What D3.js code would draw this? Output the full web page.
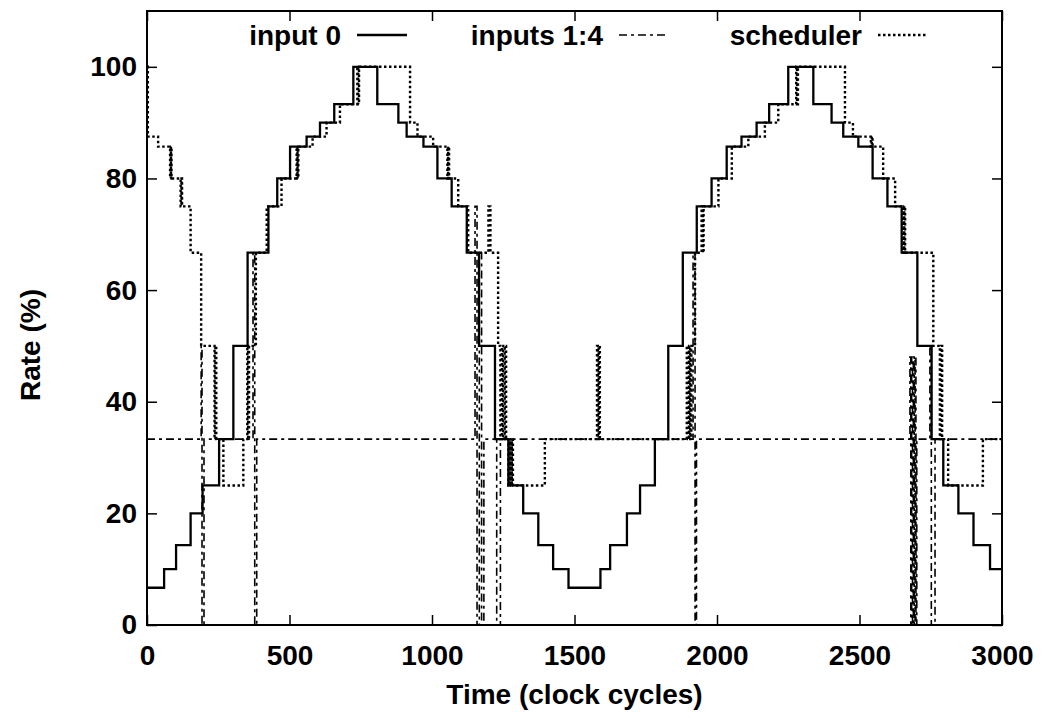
<!DOCTYPE html>
<html>
<head>
<meta charset="utf-8">
<script src="https://cdnjs.cloudflare.com/ajax/libs/d3/7.8.5/d3.min.js"></script>
<style>
  body { margin: 0; background: #fff; }
  svg { display: block; }
  text { font-family: "Liberation Sans", Arial, sans-serif; font-weight: bold; font-size: 28px; fill: #000; }
</style>
</head>
<body>
<script>
// tick values
var xTicks = [0, 500, 1000, 1500, 2000, 2500, 3000];
var yTicks = [0, 20, 40, 60, 80, 100];

// legend labels
var seriesNames = ["input 0", "inputs 1:4", "scheduler"];

// input 0 rate, [time, rate %], step after
var input0 = [
  [0, 6.67], [60, 10], [102, 14.3], [153, 20], [195, 25], [253, 33.3], [303, 50],
  [353, 66.7], [426, 75], [457, 80], [502, 85.7], [560, 87.5], [607, 90], [657, 93.3],
  [724, 100], [808, 93.3], [882, 90], [911, 87.5], [970, 85.7], [1019, 80], [1069, 75],
  [1122, 66.7], [1165, 50], [1221, 33.3], [1268, 25], [1320, 20], [1373, 14.3],
  [1425, 10], [1479, 6.67], [1591, 10], [1625, 14.3], [1684, 20], [1730, 25],
  [1782, 33.3], [1829, 50], [1880, 66.7], [1929, 75], [1981, 80], [2034, 85.7],
  [2086, 87.5], [2139, 90], [2183, 93.3], [2250, 100], [2338, 93.3], [2402, 90],
  [2443, 87.5], [2496, 85.7], [2546, 80], [2598, 75], [2648, 66.7], [2703, 50],
  [2753, 33.3], [2794, 25], [2847, 20], [2900, 14.3], [2958, 10], [3000, 10]
];

// inputs 1:4 rate
var inputs14 = [
  [0, 33.3], [190, 50], [193, 0], [200, 33.3],
  [372, 66.7], [378, 0], [385, 33.3],
  [1151, 75], [1158, 0], [1166, 66.7], [1174, 0], [1182, 33.3],
  [1227, 0], [1240, 33.3],
  [1916, 66.7], [1923, 0], [1928, 33.3],
  [2677, 48], [2680, 0], [2683, 48], [2686, 0], [2689, 48], [2692, 0], [2695, 48], [2698, 0], [2701, 33.3],
  [2747, 50], [2752, 0], [2765, 33.3],
  [3000, 33.3]
];

// scheduler rate
var scheduler = [
  [0, 100], [3, 87.5], [39, 85.7], [81, 80], [84, 85.7], [86, 80], [118, 75], [121, 80], [123, 75],
  [153, 66.7], [190, 50], [237, 33.3], [240, 50], [243, 33.3], [268, 25], [338, 33.3],
  [352, 50], [355, 33.3], [358, 50], [382, 66.7], [420, 75], [472, 80], [525, 85.7],
  [528, 80], [531, 85.7], [581, 87.5], [630, 90], [677, 93.3], [738, 100], [741, 93.3],
  [744, 100], [923, 90], [949, 87.5], [1004, 85.7], [1054, 80], [1057, 85.7], [1060, 80],
  [1092, 75], [1127, 66.7], [1198, 75], [1205, 66.7], [1232, 50], [1240, 33.3], [1245, 50],
  [1250, 33.3], [1255, 50], [1260, 33.3], [1268, 25], [1272, 33.3], [1276, 25], [1280, 33.3],
  [1284, 25], [1396, 33.3], [1579, 50], [1582, 33.3], [1585, 50], [1589, 33.3],
  [1894, 50], [1898, 33.3], [1902, 50], [1906, 33.3], [1910, 50], [1923, 66.7],
  [1946, 75], [1950, 66.7], [1953, 75], [2005, 80], [2052, 85.7], [2110, 87.5], [2168, 90],
  [2215, 93.3], [2278, 100], [2281, 93.3], [2284, 100], [2449, 90], [2477, 87.5],
  [2540, 85.7], [2543, 87.5], [2546, 85.7], [2583, 80], [2625, 75], [2654, 66.7],
  [2657, 75], [2660, 66.7], [2759, 50], [2782, 33.3], [2786, 50], [2790, 33.3],
  [2811, 25], [2933, 33.3], [3000, 33.3]
];

// set the dimensions and margins of the graph
var margin = {top: 11, right: 41, bottom: 93, left: 147},
    width = 1043 - margin.left - margin.right,
    height = 718 - margin.top - margin.bottom;

// set the ranges
var x = d3.scaleLinear().domain([0, 3000]).range([0, width]);
var y = d3.scaleLinear().domain([0, 110]).range([height, 0]);

var svg = d3.select('body')
            .append('svg')
            .attr('width', 1043)
            .attr('height', 718)
            .append('g')
            .attr('transform', 'translate(' + margin.left + ',' + margin.top + ')');

svg.append('clipPath').attr('id', 'clip')
    .append('rect').attr('width', width).attr('height', height);

var line = d3.line()
    .x(function(d) { return x(d[0]); })
    .y(function(d) { return y(d[1]); })
    .curve(d3.curveStepAfter);

// line styles: solid, dash-dot, dotted
var styles = [
  {data: input0, w: 2.3, dash: null},
  {data: inputs14, w: 1.6, dash: '8,4,3,4'},
  {data: scheduler, w: 2.4, dash: '2.5,2.5'}
];

styles.forEach(function(s) {
  svg.append('path')
      .datum(s.data)
      .attr('clip-path', 'url(#clip)')
      .attr('fill', 'none')
      .attr('stroke', '#000')
      .attr('stroke-width', s.w)
      .attr('stroke-dasharray', s.dash)
      .attr('d', line);
});

// add the axes (ticks inward, mirrored)
function styleAxis(g) {
  g.select('.domain').remove();
  g.selectAll('line').attr('stroke', '#000').attr('stroke-width', 1.5);
  g.selectAll('text').attr('fill', '#000').style('font-size', '28px').style('font-family', null);
}

svg.append('g')
    .attr('transform', 'translate(0,' + height + ')')
    .call(d3.axisBottom(x).tickValues(xTicks).tickSize(-10).tickPadding(20).tickFormat(d3.format('d')))
    .call(styleAxis);

svg.append('g')
    .call(d3.axisTop(x).tickValues(xTicks).tickSize(-10).tickFormat(''))
    .call(styleAxis);

svg.append('g')
    .call(d3.axisLeft(y).tickValues(yTicks).tickSize(-10).tickPadding(10))
    .call(styleAxis);

svg.append('g')
    .attr('transform', 'translate(' + width + ',0)')
    .call(d3.axisRight(y).tickValues(yTicks).tickSize(-10).tickFormat(''))
    .call(styleAxis);

// frame
svg.append('rect')
    .attr('width', width)
    .attr('height', height)
    .attr('fill', 'none')
    .attr('stroke', '#000')
    .attr('stroke-width', 2);

// text label for the x axis
svg.append('text')
    .attr('x', width / 2)
    .attr('y', height + 79)
    .attr('text-anchor', 'middle')
    .text('Time (clock cycles)');

// text label for y axis
svg.append('text')
    .attr('transform', 'rotate(-90)')
    .attr('x', -(height / 2 + 27))
    .attr('y', 40 - margin.left)
    .attr('text-anchor', 'middle')
    .text('Rate (%)');

// legend
var legendEnd = [341, 603, 862];
seriesNames.forEach(function(name, i) {
  var lx = legendEnd[i] - margin.left;
  svg.append('text')
      .attr('x', lx)
      .attr('y', 34)
      .attr('text-anchor', 'end')
      .text(name);
  svg.append('line')
      .attr('x1', lx + 16)
      .attr('x2', lx + 66)
      .attr('y1', 24)
      .attr('y2', 24)
      .attr('stroke', '#000')
      .attr('stroke-width', styles[i].w)
      .attr('stroke-dasharray', styles[i].dash);
});
</script>
</body>
</html>
